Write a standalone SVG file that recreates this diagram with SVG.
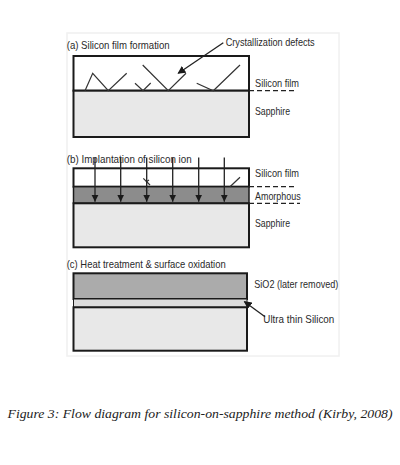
<svg xmlns="http://www.w3.org/2000/svg" width="400" height="465" viewBox="0 0 400 465">
<defs>
<style>
.lbl{font-family:"Liberation Sans Narrow","Liberation Sans","DejaVu Sans",sans-serif;font-size:11px;fill:#2a2a2a}
.cap{font-family:"Liberation Serif","DejaVu Serif",serif;font-style:italic;font-size:13px;fill:#222}
.box{stroke:#1a1a1a;stroke-width:2}
.ln{stroke:#1a1a1a;stroke-width:2;fill:none}
.def{stroke:#333;stroke-width:1.2;fill:none}
.dash{stroke:#222;stroke-width:1.2;stroke-dasharray:5 3;fill:none}
.ar{stroke:#222;stroke-width:1.3;fill:none}
</style>
<marker id="ah" markerWidth="8" markerHeight="8" refX="7" refY="4" orient="auto" markerUnits="userSpaceOnUse">
<path d="M0,0 L8,4 L0,8 Z" fill="#1a1a1a"/>
</marker>
<marker id="ah2" markerWidth="7" markerHeight="8" refX="7" refY="3.5" orient="auto" markerUnits="userSpaceOnUse">
<path d="M0,0 L7,3.5 L0,7 Z" fill="#1a1a1a"/>
</marker>
</defs>
<rect width="400" height="465" fill="#fff"/>
<rect x="67" y="33" width="272" height="323" fill="none" stroke="#f0f0f0" stroke-width="1.5"/>

<g id="panel-a">
<rect x="73.5" y="56" width="175.5" height="34.7" fill="#fff" class="box"/>
<rect x="73.5" y="90.7" width="175.5" height="46.3" fill="#e8e8e8" class="box"/>
<polyline class="def" points="85,90.7 92.7,73.3 108.3,90.7 126.7,73.3"/>
<polyline class="def" points="135,83.3 143,90.7 150.7,83"/>
<polyline class="def" points="142.7,65 168.3,90.7 186,73.3"/>
<polyline class="def" points="196.7,83.3 213.3,90.7 240,65"/>
<text class="lbl" x="66.7" y="49" textLength="103" lengthAdjust="spacingAndGlyphs">(a) Silicon film formation</text>
<text class="lbl" x="225.7" y="46" textLength="89" lengthAdjust="spacingAndGlyphs">Crystallization defects</text>
<text class="lbl" x="255" y="86.7" textLength="44" lengthAdjust="spacingAndGlyphs">Silicon film</text>
<text class="lbl" x="255" y="115" textLength="35" lengthAdjust="spacingAndGlyphs">Sapphire</text>
</g>

<g id="panel-b">
<rect x="73.5" y="168.3" width="175.5" height="18.4" fill="#fff" class="box"/>
<rect x="73.5" y="186.7" width="175.5" height="16.6" fill="#8c8c8c" stroke="#1a1a1a" stroke-width="1.5"/>
<rect x="73.5" y="203.3" width="175.5" height="44" fill="#e8e8e8" class="box"/>
<polyline class="def" points="143.3,178.3 150,185"/>
<line class="def" x1="146" y1="182" x2="149" y2="180"/>
<line class="def" x1="230" y1="186.7" x2="240" y2="177.3"/>
<text class="lbl" x="66.7" y="163" textLength="125" lengthAdjust="spacingAndGlyphs">(b) Implantation of silicon ion</text>
<text class="lbl" x="255" y="176.7" textLength="44" lengthAdjust="spacingAndGlyphs">Silicon film</text>
<text class="lbl" x="255" y="200" textLength="45.7" lengthAdjust="spacingAndGlyphs">Amorphous</text>
<text class="lbl" x="255" y="226.7" textLength="35" lengthAdjust="spacingAndGlyphs">Sapphire</text>
</g>

<g id="panel-c">
<rect x="73.5" y="273.3" width="173.5" height="25.7" fill="#ababab" class="box"/>
<rect x="73.5" y="299" width="173.5" height="8.3" fill="#dcdcdc" stroke="#1a1a1a" stroke-width="1"/>
<rect x="73.5" y="307.3" width="173.5" height="43.4" fill="#e8e8e8" class="box"/>
<text class="lbl" x="66.7" y="268.3" textLength="159" lengthAdjust="spacingAndGlyphs">(c) Heat treatment &amp; surface oxidation</text>
<text class="lbl" x="254.3" y="288.3" textLength="84" lengthAdjust="spacingAndGlyphs">SiO2 (later removed)</text>
<text class="lbl" x="263.3" y="323.3" textLength="71" lengthAdjust="spacingAndGlyphs">Ultra thin Silicon</text>
</g>

<g id="connectors">
<line class="ar" x1="223.3" y1="42.7" x2="178.3" y2="73.3" marker-end="url(#ah)"/>
<line class="dash" x1="249" y1="90.7" x2="297" y2="90.7"/>
<line class="dash" x1="249" y1="186.7" x2="297" y2="186.7"/>
<line class="dash" x1="249" y1="203.3" x2="300" y2="203.3"/>
<line class="ar" x1="95" y1="157.5" x2="95" y2="201.7" marker-end="url(#ah2)"/>
<line class="ar" x1="120.7" y1="157.5" x2="120.7" y2="201.7" marker-end="url(#ah2)"/>
<line class="ar" x1="146.7" y1="157.5" x2="146.7" y2="201.7" marker-end="url(#ah2)"/>
<line class="ar" x1="172.7" y1="157.5" x2="172.7" y2="201.7" marker-end="url(#ah2)"/>
<line class="ar" x1="198.7" y1="157.5" x2="198.7" y2="201.7" marker-end="url(#ah2)"/>
<line class="ar" x1="224.3" y1="157.5" x2="224.3" y2="201.7" marker-end="url(#ah2)"/>
<line class="ar" x1="265" y1="316.7" x2="244.5" y2="301.7" marker-end="url(#ah)"/>
</g>

<text class="cap" x="7.5" y="418" textLength="385" lengthAdjust="spacingAndGlyphs">Figure 3: Flow diagram for silicon-on-sapphire method (Kirby, 2008)</text>
</svg>
